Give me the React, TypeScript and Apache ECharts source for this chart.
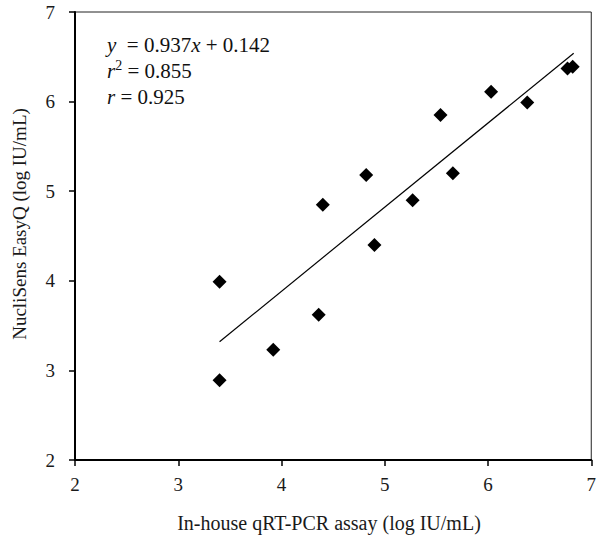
import React, { useEffect, useRef } from "react";
import * as echarts from "echarts";

const xValues = [3.4, 3.4, 3.92, 4.36, 4.4, 4.82, 4.9, 5.27, 5.54, 5.66, 6.03, 6.38, 6.77, 6.82];
const yValues = [3.99, 2.89, 3.23, 3.62, 4.85, 5.18, 4.4, 4.9, 5.85, 5.2, 6.11, 5.99, 6.37, 6.39];
const trendX = [3.4, 6.83];
const trendY = [3.32, 6.54];
const xTicks = [2, 3, 4, 5, 6, 7];
const yTicks = [2, 3, 4, 5, 6, 7];
const xTitle = "In-house qRT-PCR assay (log IU/mL)";
const yTitle = "NucliSens EasyQ (log IU/mL)";

const FONT = "'Liberation Serif', 'DejaVu Serif', serif";

export default function App() {
  const ref = useRef<HTMLDivElement>(null);
  useEffect(() => {
    if (!ref.current) return;
    const chart = echarts.init(ref.current, null, { renderer: "svg" });
    const points = xValues.map((x, i) => [x, yValues[i]]);
    const trend = trendX.map((x, i) => [x, trendY[i]]);
    chart.setOption({
      animation: false,
      backgroundColor: "#fff",
      grid: {
        left: 75,
        right: 3,
        top: 12,
        bottom: 75,
        show: true,
        borderColor: "#222",
        borderWidth: 1,
      },
      xAxis: {
        type: "value",
        min: xTicks[0],
        max: xTicks[xTicks.length - 1],
        interval: 1,
        axisLine: { show: true, lineStyle: { color: "#000", width: 2 } },
        axisTick: { show: true, length: 6, lineStyle: { color: "#000", width: 1.5 } },
        axisLabel: { fontFamily: FONT, fontSize: 19, color: "#1a1a1a", margin: 15 },
        splitLine: { show: false },
      },
      yAxis: {
        type: "value",
        min: yTicks[0],
        max: yTicks[yTicks.length - 1],
        interval: 1,
        axisLine: { show: true, lineStyle: { color: "#000", width: 2 } },
        axisTick: { show: true, length: 6, lineStyle: { color: "#000", width: 1.5 } },
        axisLabel: { fontFamily: FONT, fontSize: 19, color: "#1a1a1a", margin: 20 },
        splitLine: { show: false },
      },
      graphic: [
        {
          type: "text",
          left: 107,
          top: 32,
          style: {
            text: "{i|y}  = 0.937{i|x} + 0.142\n{i|r}{s|2} = 0.855\n{i|r} = 0.925",
            fontFamily: FONT,
            fontSize: 21,
            lineHeight: 26,
            fill: "#111",
            rich: {
              i: { fontFamily: FONT, fontSize: 21, fontStyle: "italic", lineHeight: 26, fill: "#111" },
              s: { fontFamily: FONT, fontSize: 14, verticalAlign: "top", lineHeight: 20, fill: "#111" },
            },
          },
        },
        {
          type: "text",
          x: 329,
          y: 523,
          style: {
            text: xTitle,
            fontFamily: FONT,
            fontSize: 20,
            fill: "#1a1a1a",
            textAlign: "center",
            textVerticalAlign: "middle",
          },
        },
        {
          type: "text",
          x: 19,
          y: 224,
          rotation: Math.PI / 2,
          style: {
            text: yTitle,
            fontFamily: FONT,
            fontSize: 19,
            fill: "#1a1a1a",
            textAlign: "center",
            textVerticalAlign: "middle",
          },
        },
      ],
      series: [
        {
          type: "line",
          data: trend,
          symbol: "none",
          lineStyle: { color: "#000", width: 1.2 },
          z: 2,
        },
        {
          type: "scatter",
          data: points,
          symbol: "diamond",
          symbolSize: 14,
          itemStyle: { color: "#000", opacity: 1 },
          z: 3,
        },
      ],
    });
    return () => chart.dispose();
  }, []);
  return <div ref={ref} style={{ width: 599, height: 535, position: "absolute", left: 0, top: 0 }} />;
}
